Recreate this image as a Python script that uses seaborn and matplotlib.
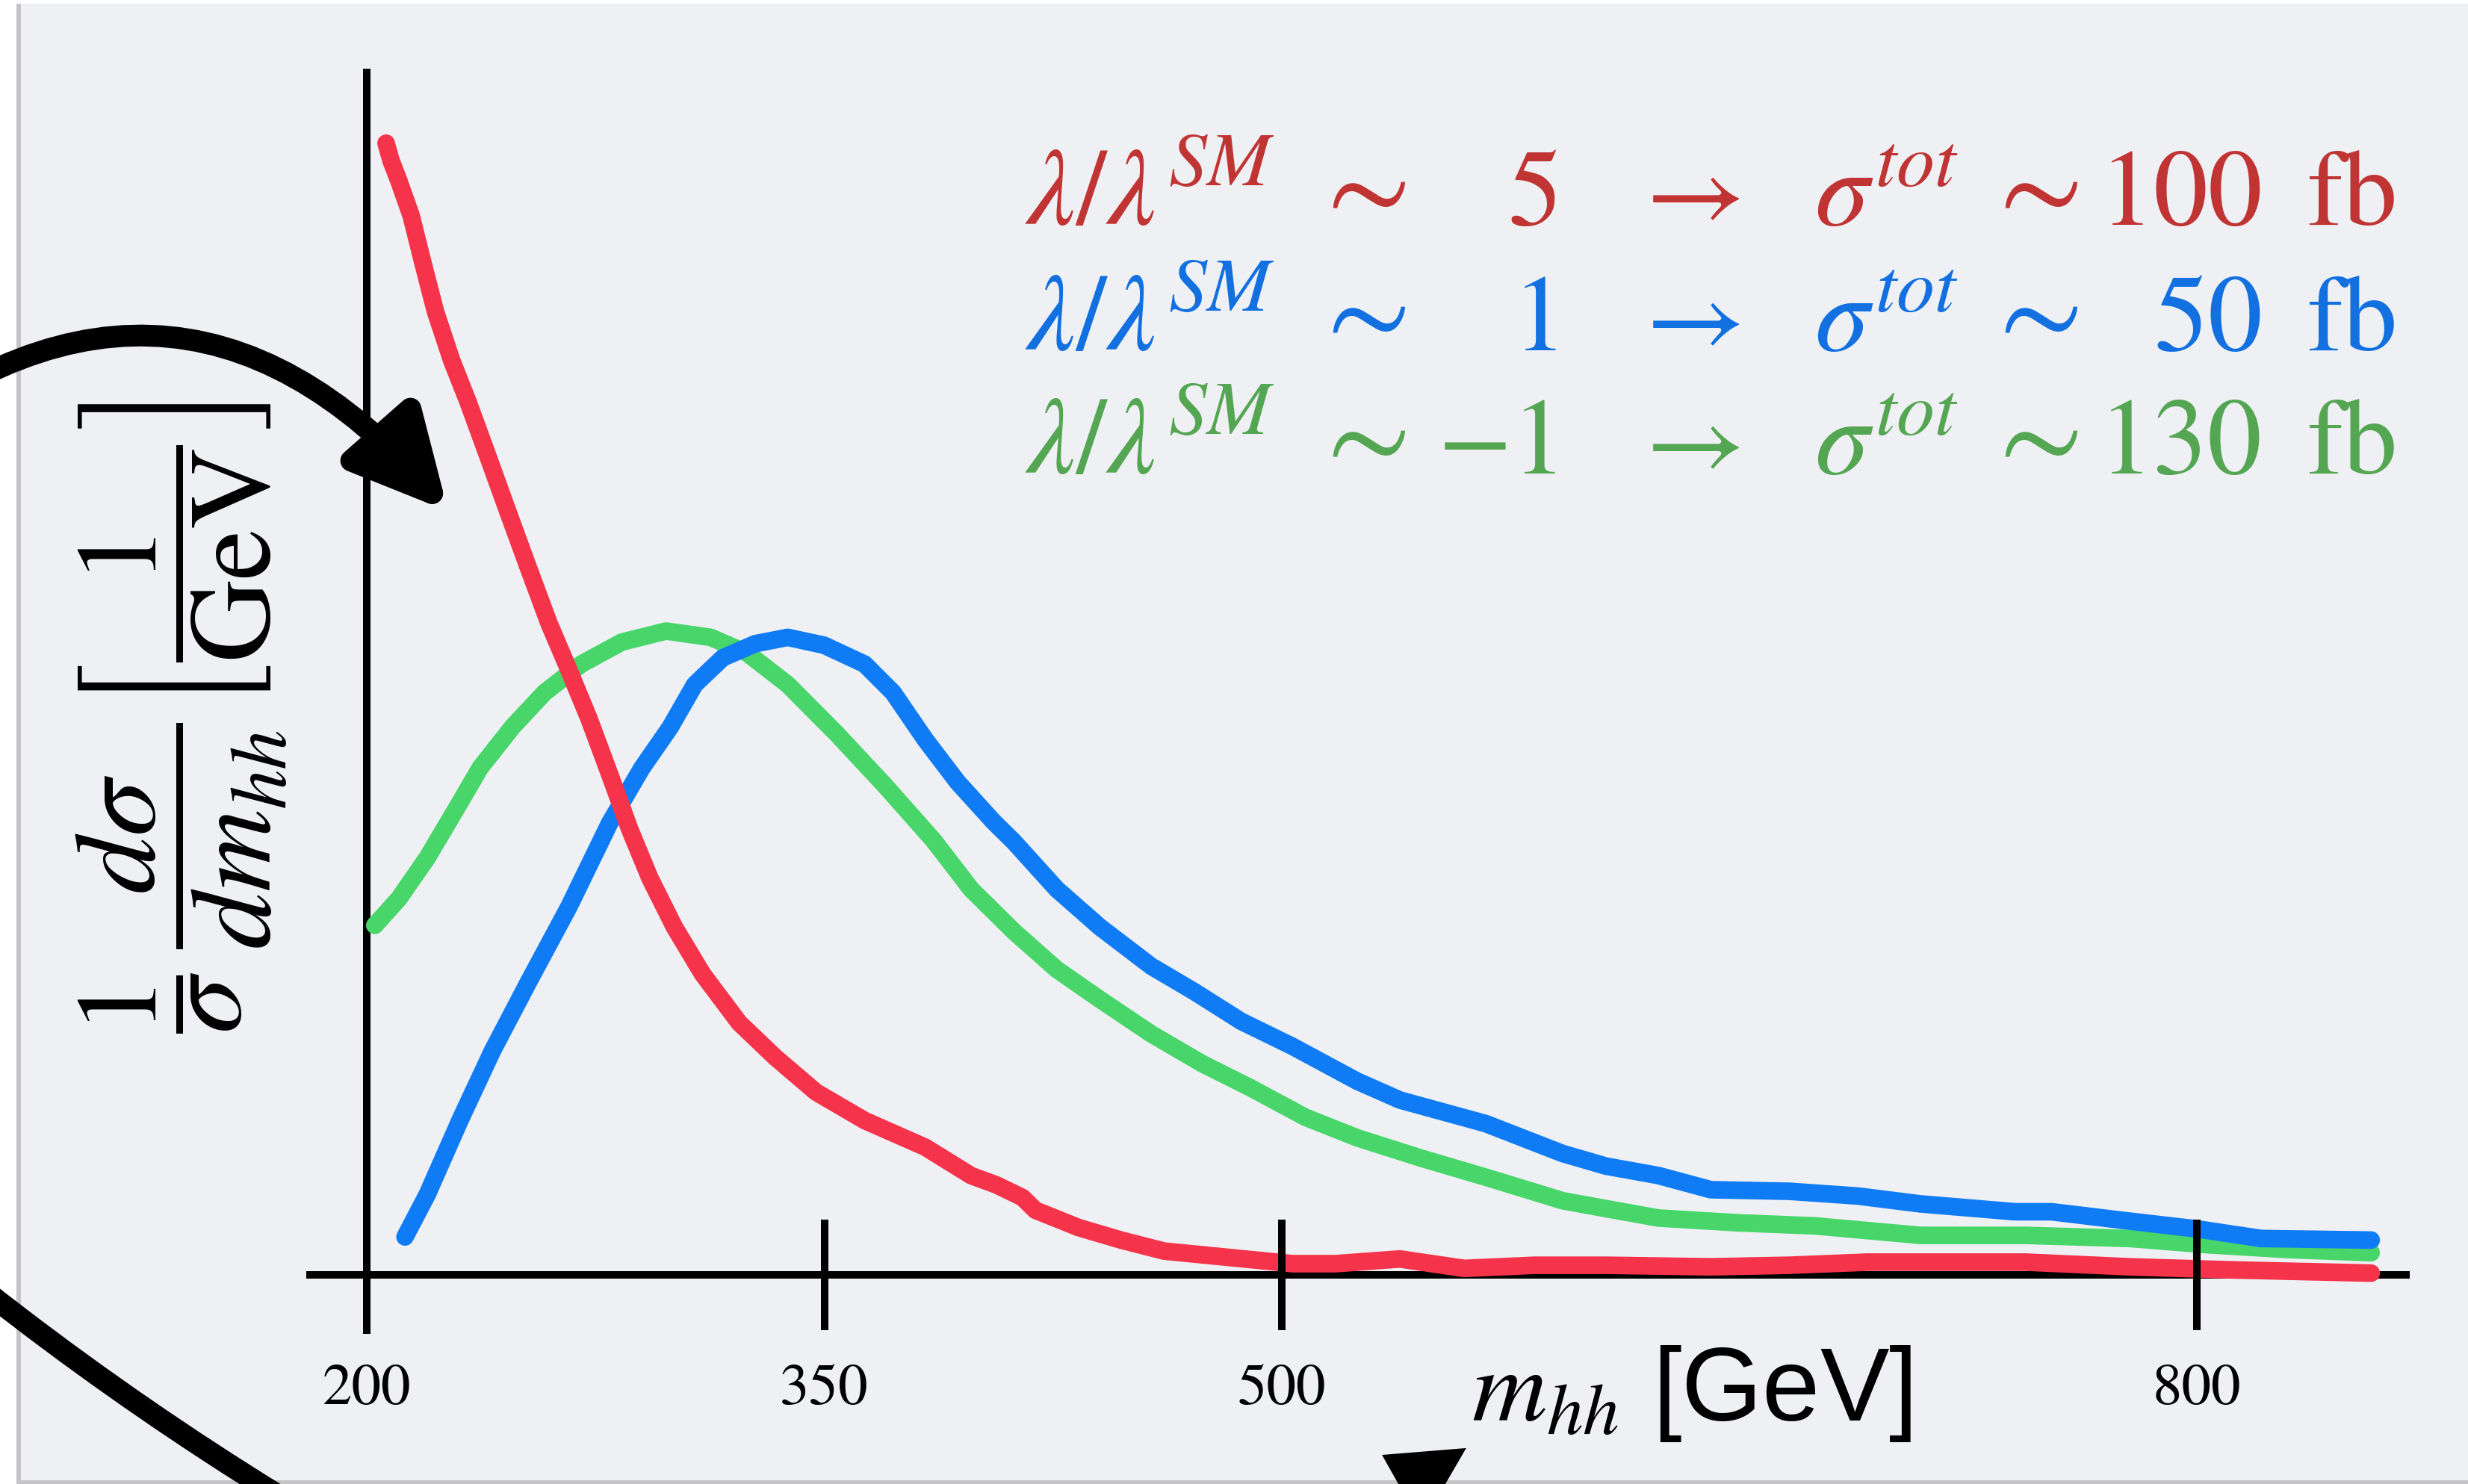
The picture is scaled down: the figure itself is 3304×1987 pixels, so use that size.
import seaborn as sns
import matplotlib.pyplot as plt
import pandas as pd
import numpy as np
from matplotlib.patches import FancyArrowPatch, Rectangle, Polygon

# -------------------------------
# Curves: m_hh [GeV] vs 1/sigma dsigma/dm_hh (arb. units)
# -------------------------------
red_m = [206.3, 207.9, 210.5, 214.5, 218.5, 222.5, 227.8, 233.1, 239.7, 246.4,
         253.0, 259.7, 266.3, 272.9, 279.6, 286.2, 292.8, 300.8, 310.1, 322.1,
         334.0, 347.3, 363.2, 383.1, 398.1, 406.5, 415.0, 419.2, 433.3, 447.3,
         461.4, 482.5, 503.6, 517.6, 538.7, 559.8, 583.0, 606.3, 640.7, 666.4,
         692.2, 709.4, 743.8, 778.1, 812.5, 857.2]
red_y = [7.19, 7.08, 6.95, 6.73, 6.42, 6.12, 5.81, 5.55, 5.20, 4.84,
         4.49, 4.14, 3.84, 3.53, 3.18, 2.83, 2.52, 2.21, 1.91, 1.60,
         1.38, 1.16, 0.98, 0.81, 0.63, 0.57, 0.49, 0.41, 0.30, 0.22,
         0.15, 0.11, 0.07, 0.07, 0.10, 0.04, 0.06, 0.06, 0.05, 0.06,
         0.08, 0.08, 0.08, 0.05, 0.03, 0.01]

blue_m = [212.5, 219.8, 230.5, 241.1, 253.0, 266.3, 279.6, 290.2, 299.5, 307.5,
          316.7, 327.4, 338.0, 349.9, 363.2, 372.5, 383.1, 393.7, 405.4, 412.2,
          426.2, 440.3, 457.2, 471.2, 486.7, 503.6, 524.7, 538.7, 566.9, 592.1,
          606.3, 623.5, 640.7, 666.4, 688.8, 709.4, 740.3, 752.4, 778.1, 800.5,
          821.1, 857.2]
blue_y = [0.24, 0.51, 0.98, 1.42, 1.86, 2.34, 2.87, 3.22, 3.48, 3.75,
          3.92, 4.01, 4.05, 4.00, 3.88, 3.70, 3.40, 3.13, 2.88, 2.75,
          2.45, 2.21, 1.96, 1.80, 1.61, 1.45, 1.23, 1.11, 0.96, 0.77,
          0.69, 0.63, 0.54, 0.53, 0.50, 0.45, 0.40, 0.40, 0.34, 0.29,
          0.23, 0.22]

green_m = [202.6, 210.5, 219.8, 230.5, 237.1, 247.7, 258.3, 270.3, 283.6, 298.1,
           312.7, 324.7, 338.0, 353.9, 369.8, 385.8, 398.1, 412.2, 426.2, 440.3,
           457.2, 474.0, 489.5, 507.8, 524.7, 545.8, 566.8, 592.1, 606.3, 623.5,
           649.3, 675.0, 709.4, 743.8, 778.1, 803.9, 829.7, 857.2]
green_y = [2.22, 2.39, 2.65, 3.00, 3.22, 3.48, 3.70, 3.88, 4.02, 4.09,
           4.05, 3.95, 3.75, 3.44, 3.11, 2.76, 2.45, 2.18, 1.94, 1.75,
           1.53, 1.34, 1.19, 1.00, 0.87, 0.74, 0.62, 0.47, 0.42, 0.36,
           0.33, 0.31, 0.25, 0.25, 0.23, 0.19, 0.16, 0.14]

ticks = [200, 350, 500, 800]
tick_labels = ["200", "350", "500", "800"]

lam_ratio = ["5", "1", "-1"]
sigma_tot = ["100", "50", "130"]

line_colors = ["#f5334a", "#0f7cf6", "#48d66b"]
text_colors = ["#c03434", "#1270e0", "#55a653"]

frames = []
for lam, m, y in zip(lam_ratio, [red_m, blue_m, green_m], [red_y, blue_y, green_y]):
    frames.append(pd.DataFrame({"m_hh": m, "dist": y, "lam": lam}))
df = pd.concat(frames, ignore_index=True)

# -------------------------------
# Style
# -------------------------------
sns.set_style("white")
plt.rcParams["font.family"] = ["STIXGeneral", "DejaVu Sans"]
plt.rcParams["mathtext.fontset"] = "stix"
plt.rcParams["text.color"] = "black"
plt.rcParams["xtick.color"] = "black"

fig = plt.figure(figsize=(33.05, 19.87), dpi=100, facecolor="white")
ax = fig.add_axes([0, 0, 1, 1])
ax.set_facecolor("white")
ax.set_xlim(79.7, 889.2)
ax.set_ylim(-1.33, 8.10)

# slide panel with a small drop shadow
ax.add_patch(Rectangle((0.0068, 0.0), 1.0, 0.9975, transform=ax.transAxes,
                       color="#c4c4c6", zorder=0.2, lw=0))
ax.add_patch(Rectangle((0.0085, 0.0025), 0.9915, 0.995, transform=ax.transAxes,
                       color="#eff0f4", zorder=0.3, lw=0))

# curves (green, blue, red so red sits on top)
for i in [2, 1, 0]:
    sns.lineplot(data=df[df["lam"] == lam_ratio[i]], x="m_hh", y="dist",
                 color=line_colors[i], linewidth=17, sort=False,
                 solid_capstyle="round", solid_joinstyle="round",
                 legend=False, ax=ax, zorder=2)

# axes drawn as plain black lines: spines under the curves, tick marks over them
for s in ["top", "right"]:
    ax.spines[s].set_visible(False)
ax.spines["bottom"].set_position(("data", 0))
ax.spines["bottom"].set_bounds(181.4, 868.6)
ax.spines["left"].set_position(("data", 200))
ax.spines["left"].set_bounds(-0.35, 7.64)
for s in ["bottom", "left"]:
    ax.spines[s].set_linewidth(7.2)
    ax.spines[s].set_color("black")
    ax.spines[s].set_zorder(1.5)

ax.set_yticks([])
ax.set_xticks(ticks)
ax.set_xticklabels(tick_labels)
ax.tick_params(axis="x", bottom=True, direction="inout", length=106, width=7.2,
               color="black", labelcolor="black", pad=33, labelsize=57)
ax.xaxis.set_zorder(3)
ax.set_xlabel("")
ax.set_ylabel("")

# axis titles
ax.text(0.0735, 0.516,
        r"$\dfrac{1}{\sigma}\,\dfrac{d\sigma}{dm_{hh}}\left[\dfrac{1}{\mathrm{GeV}}\right]$",
        rotation=90, ha="center", va="center", fontsize=110, color="black",
        transform=ax.transAxes)
ax.text(0.596, 0.0428, r"$m_{hh}$ [GeV]", family=["Liberation Sans", "DejaVu Sans"],
        ha="left", va="baseline", fontsize=100, color="black", transform=ax.transAxes)

# coupling / cross-section annotations
baselines = [0.8484, 0.7641, 0.6808]
fs = 105
for i in range(3):
    yb = baselines[i]
    c = text_colors[i]
    kw = dict(transform=ax.transAxes, va="baseline", color=c)
    ax.text(0.4152, yb, r"$\lambda/\lambda^{SM}$", ha="left", fontsize=fs, **kw)
    ax.text(0.550, yb, r"$\sim$", ha="center", fontsize=fs * 1.12, **kw)
    ax.text(0.6305, yb, "$" + lam_ratio[i] + "$", ha="right", fontsize=fs, **kw)
    ax.text(0.6824, yb, r"$\rightarrow$", ha="center", fontsize=fs, **kw)
    ax.text(0.735, yb, r"$\sigma^{tot}$", ha="left", fontsize=fs, **kw)
    ax.text(0.8222, yb, r"$\sim$", ha="center", fontsize=fs * 1.12, **kw)
    ax.text(0.9165, yb, sigma_tot[i], ha="right", fontsize=fs, **kw)
    ax.text(0.9343, yb, "fb", ha="left", fontsize=fs, **kw)

# decorative black arrows
ax.add_patch(FancyArrowPatch((-0.0638, 0.682), (0.1815, 0.6555), transform=ax.transAxes,
                             connectionstyle="arc3,rad=-0.5",
                             arrowstyle="-|>,head_length=0.75,head_width=0.38",
                             mutation_scale=100, lw=21, color="black",
                             shrinkA=0, shrinkB=0, zorder=4))
ax.add_patch(FancyArrowPatch((-0.0303, 0.1626), (0.1815, -0.0735), transform=ax.transAxes,
                             connectionstyle="arc3,rad=0.05", arrowstyle="-",
                             lw=21, color="black", shrinkA=0, shrinkB=0, zorder=4))
ax.add_patch(Polygon([(0.5598, 0.0196), (0.5939, 0.0242), (0.5758, -0.0277)],
                     closed=True, transform=ax.transAxes, color="black", lw=0, zorder=4))

plt.savefig("out.png", dpi=100)
plt.close()
